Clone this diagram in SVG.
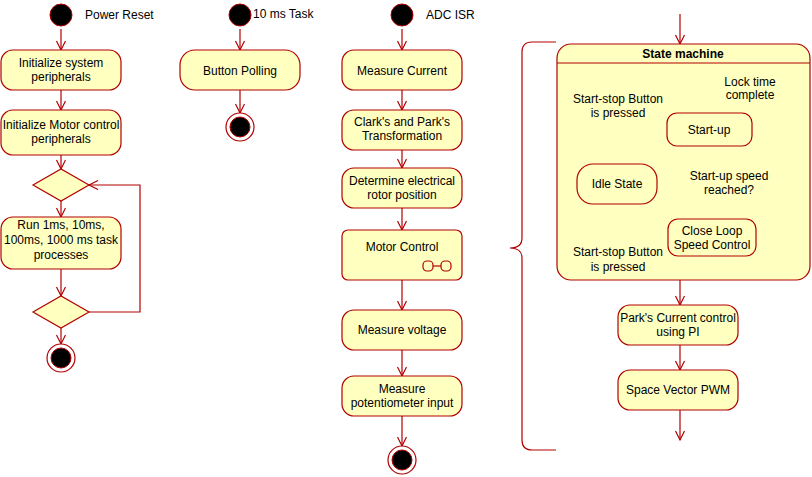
<svg xmlns="http://www.w3.org/2000/svg" width="812" height="477" viewBox="0 0 812 477">
<style>
.n{fill:#FFFFC0;stroke:#B20000;stroke-width:1.2}
.c{fill:none;stroke:#B20000;stroke-width:1.2}
.s{fill:#000;stroke:#B20000;stroke-width:1}
text{font-family:"Liberation Sans",Arial,sans-serif;font-size:12px;fill:#000;text-anchor:middle}
.l{text-anchor:start}
</style>
<defs><marker id="a" markerWidth="12" markerHeight="12" refX="10" refY="5" orient="auto" markerUnits="userSpaceOnUse"><path d="M1,0.5 L10,5 L1,9.5" fill="none" stroke="#B20000" stroke-width="1.2"/></marker></defs>
<g id="connectors" class="c" marker-end="url(#a)">
<path d="M61,29V50"/><path d="M61,90V110"/><path d="M61,155V169"/><path d="M61,201V217"/><path d="M61,269V296"/><path d="M61,328V344"/>
<path d="M89,312H140V185H89"/>
<path d="M240,29V50"/><path d="M240,90V113"/>
<path d="M402,29V50"/><path d="M402,90V110"/><path d="M402,150V168"/><path d="M402,208V230"/><path d="M402,280V310"/><path d="M402,350V376"/><path d="M402,416V446"/>
<path d="M680,14V44"/>
<path d="M617,164V131H667"/><path d="M752,128H780V237H756"/><path d="M668,237H617V204"/>
<path d="M680,280V305"/><path d="M680,345V370"/><path d="M680,410V440"/>
</g>
<g id="brace"><path class="c" d="M556,42H532Q522,42 522,52V238Q522,248 510,248Q522,248 522,258V440Q522,450 532,450H556"/></g>
<g id="start1"><circle class="s" cx="61" cy="15" r="11"/><text class="l" x="85" y="19">Power Reset</text></g>
<g id="n1"><rect class="n" x="1" y="50" width="120" height="40" rx="12"/><text x="61" y="67">Initialize system</text><text x="61" y="81">peripherals</text></g>
<g id="n2"><rect class="n" x="1" y="110" width="120" height="45" rx="12"/><text x="61" y="129">Initialize Motor control</text><text x="61" y="143">peripherals</text></g>
<g id="d1"><path class="n" d="M33,185L61,169L89,185L61,201Z"/></g>
<g id="n3"><rect class="n" x="1" y="217" width="120" height="52" rx="12"/><text x="61" y="229">Run 1ms, 10ms,</text><text x="61" y="244">100ms, 1000 ms task</text><text x="61" y="259">processes</text></g>
<g id="d2"><path class="n" d="M33,312L61,296L89,312L61,328Z"/></g>
<g id="end1"><circle cx="61" cy="358" r="14" fill="#fff" stroke="#B20000" stroke-width="1.2"/><circle class="s" cx="61" cy="358" r="10"/></g>
<g id="start2"><circle class="s" cx="240" cy="15" r="11"/><text class="l" x="253" y="18">10 ms Task</text></g>
<g id="bp"><rect class="n" x="180" y="50" width="120" height="40" rx="15"/><text x="240" y="75">Button Polling</text></g>
<g id="end2"><circle cx="240" cy="127" r="14" fill="#fff" stroke="#B20000" stroke-width="1.2"/><circle class="s" cx="240" cy="127" r="10"/></g>
<g id="start3"><circle class="s" cx="402" cy="15" r="11"/><text class="l" x="426" y="19">ADC ISR</text></g>
<g id="mc"><rect class="n" x="342" y="50" width="120" height="40" rx="12"/><text x="402" y="75">Measure Current</text></g>
<g id="cp"><rect class="n" x="342" y="110" width="120" height="40" rx="12"/><text x="402" y="126">Clark's and Park's</text><text x="402" y="140">Transformation</text></g>
<g id="de"><rect class="n" x="342" y="168" width="120" height="40" rx="12"/><text x="402" y="185">Determine electrical</text><text x="402" y="199">rotor position</text></g>
<g id="mo"><rect class="n" x="342" y="230" width="120" height="50" rx="6"/><text x="402" y="251">Motor Control</text><rect class="n" x="423" y="261" width="10" height="10" rx="4"/><rect class="n" x="441" y="261" width="10" height="10" rx="4"/><path class="c" d="M433,266H441"/></g>
<g id="mv"><rect class="n" x="342" y="310" width="120" height="40" rx="12"/><text x="402" y="334">Measure voltage</text></g>
<g id="mp"><rect class="n" x="342" y="376" width="120" height="40" rx="12"/><text x="402" y="393">Measure</text><text x="402" y="407">potentiometer input</text></g>
<g id="end3"><circle cx="402" cy="460" r="14" fill="#fff" stroke="#B20000" stroke-width="1.2"/><circle class="s" cx="402" cy="460" r="10"/></g>
<g id="sm"><rect class="n" x="557" y="44" width="253" height="236" rx="14"/><path class="c" d="M557,63H810"/><text x="683" y="58" font-weight="bold">State machine</text>
<text x="750" y="86">Lock time</text><text x="750" y="99">complete</text>
<text x="618" y="103">Start-stop Button</text><text x="618" y="117">is pressed</text>
<text x="729" y="180">Start-up speed</text><text x="729" y="194">reached?</text>
<text x="618" y="256">Start-stop Button</text><text x="618" y="271">is pressed</text></g>
<g id="su"><rect class="n" x="667" y="113" width="85" height="33" rx="10"/><text x="709" y="134">Start-up</text></g>
<g id="idle"><rect class="n" x="577" y="164" width="80" height="40" rx="16"/><text x="617" y="188">Idle State</text></g>
<g id="cl"><rect class="n" x="668" y="219" width="88" height="37" rx="10"/><text x="712" y="235">Close Loop</text><text x="712" y="249">Speed Control</text></g>
<g id="pk"><rect class="n" x="618" y="305" width="120" height="40" rx="12"/><text x="678" y="322">Park's Current control</text><text x="678" y="336">using PI</text></g>
<g id="sv"><rect class="n" x="618" y="370" width="120" height="40" rx="12"/><text x="678" y="394">Space Vector PWM</text></g>
</svg>
